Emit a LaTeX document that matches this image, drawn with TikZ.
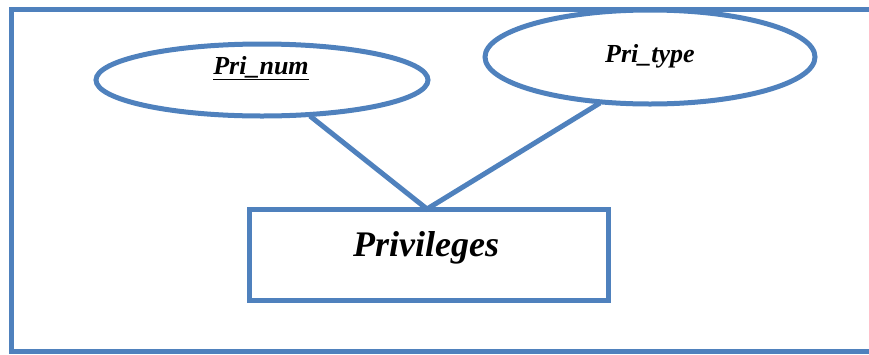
\documentclass[tikz,border=0pt]{standalone}
\usepackage{fontspec}
\setmainfont{Liberation Serif}
\definecolor{erblue}{HTML}{4F81BD}
\begin{document}
\begin{tikzpicture}[x=1pt,y=-1pt,
  edge/.style={draw=erblue,line width=5pt},
  attr/.style={ellipse,draw=erblue,line width=5pt,inner sep=0pt},
  lbl/.style={font=\bfseries\itshape,inner sep=0pt,anchor=base}]
  \useasboundingbox (0,0) rectangle (869,354);
  % outer frame, running off the right edge
  \draw[edge] (900,9.5) -- (11.5,9.5) -- (11.5,351) -- (900,351);
  % attributes
  \draw[edge] (262,80) ellipse [x radius=166, y radius=36];
  \draw[edge] (650,57) ellipse [x radius=165, y radius=47];
  \coordinate (numb) at (310,116);
  \coordinate (typeb) at (600,103);
  % entity
  \draw[edge,fill=white] (249,209) rectangle (608,300);
  \coordinate (ent) at (427,209);
  \draw[edge] (numb) -- (ent) -- (typeb);
  \node[lbl,font=\fontsize{26}{30}\selectfont\bfseries\itshape] (n1) at (261,74) {\underline{Pri\_num}};
  \node[lbl,font=\fontsize{26}{30}\selectfont\bfseries\itshape] (n2) at (650,62) {Pri\_type};
  \node[lbl,font=\fontsize{36}{40}\selectfont\bfseries\itshape] (n3) at (426,256) {Privileges};
\end{tikzpicture}
\end{document}
